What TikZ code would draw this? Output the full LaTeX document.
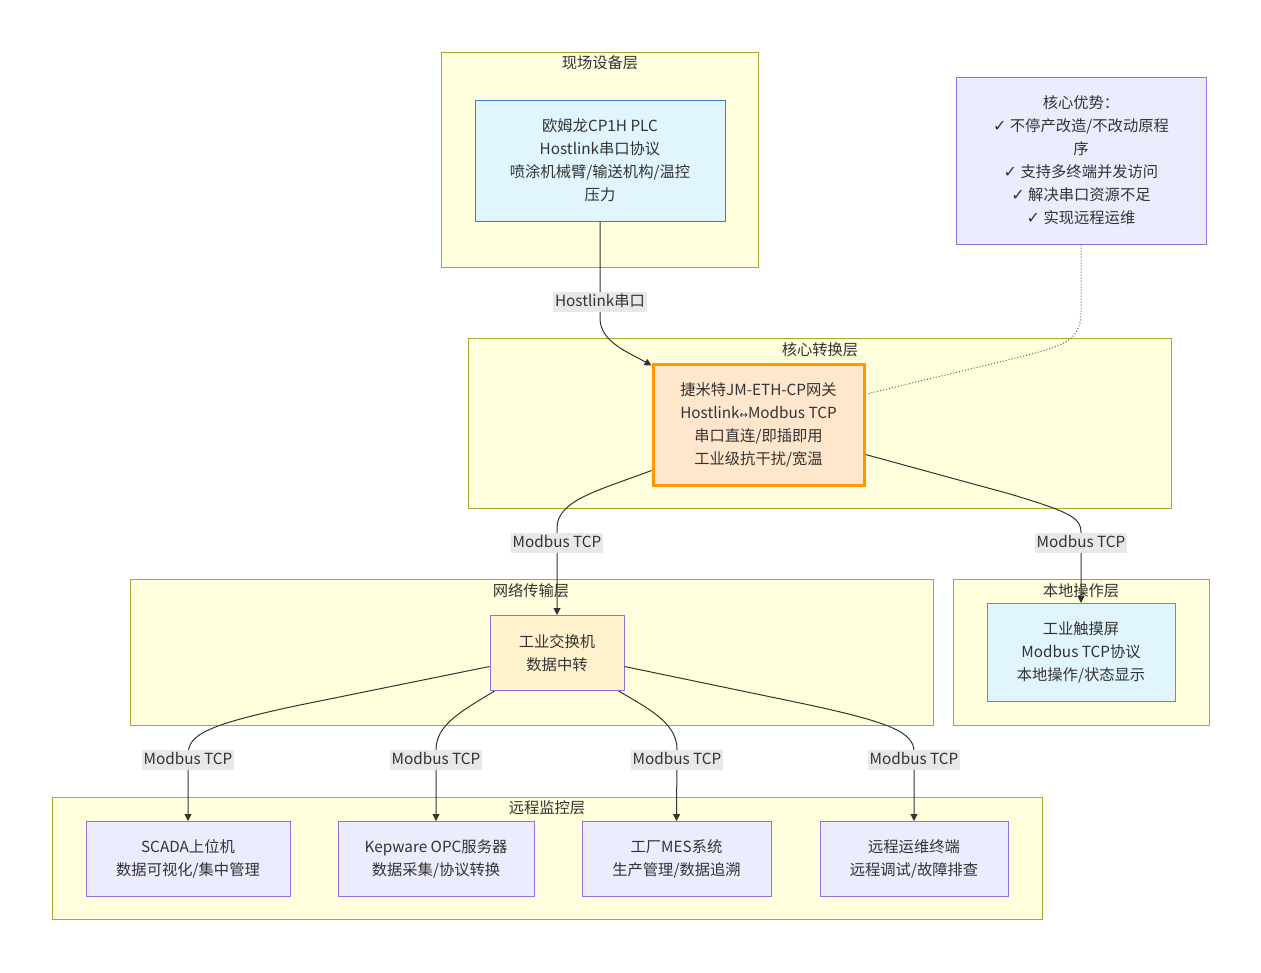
\documentclass[tikz,border=0pt]{standalone}
\usepackage{fontspec}
\setmainfont{Noto Sans CJK SC}
\newfontfamily\symf{DejaVu Sans}
\usetikzlibrary{arrows.meta,calc}
\definecolor{clfill}{HTML}{FFFFDE}
\definecolor{clborder}{HTML}{AAAA33}
\definecolor{textc}{HTML}{333333}
\definecolor{edgec}{HTML}{333333}
\definecolor{lblbg}{HTML}{E8E8E8}
\definecolor{bluefill}{HTML}{E1F5FE}
\definecolor{blueborder}{HTML}{3B7DC4}
\definecolor{purpfill}{HTML}{ECECFF}
\definecolor{purpborder}{HTML}{9370DB}
\definecolor{gwfill}{HTML}{FFE6CC}
\definecolor{gwborder}{HTML}{FF9800}
\definecolor{swfill}{HTML}{FFF2CC}
\newcommand{\ck}{{\symf\fontsize{16}{23}\selectfont ✓}}
\begin{document}
\begin{tikzpicture}[x=1pt,y=-1pt,
  every node/.style={text=textc, font=\fontsize{15.3}{23}\selectfont},
  cluster/.style={draw=clborder, fill=clfill, line width=1pt, inner sep=0pt},
  ctitle/.style={inner sep=0pt, anchor=center},
  box/.style={align=center, inner sep=0pt, line width=1pt},
  bluebox/.style={box, draw=purpborder, fill=bluefill},
  purpbox/.style={box, draw=purpborder, fill=purpfill},
  lbl/.style={fill=lblbg, inner sep=2pt, text height=12pt, text depth=4pt},
  flow/.style={draw=edgec, line width=1pt, -{Triangle[length=7pt,width=7pt]}},
  dotflow/.style={draw=edgec!80, line width=1pt, dotted}
]
\useasboundingbox (0,0) rectangle (1261,972);

% clusters
\node[cluster, minimum width=317pt, minimum height=215pt] (c1) at (599.5,159.5) {};
\node[ctitle] (c1t) at (600,63) {现场设备层};
\node[cluster, minimum width=703pt, minimum height=170pt] (c2) at (819.5,423) {};
\node[ctitle] (c2t) at (820,350) {核心转换层};
\node[cluster, minimum width=803pt, minimum height=146pt] (c3) at (531.5,652) {};
\node[ctitle] (c3t) at (531,591) {网络传输层};
\node[cluster, minimum width=256pt, minimum height=146pt] (c4) at (1081,652) {};
\node[ctitle] (c4t) at (1081,591) {本地操作层};
\node[cluster, minimum width=990pt, minimum height=122pt] (c5) at (547,858) {};
\node[ctitle] (c5t) at (547,808) {远程监控层};

% nodes
\node[box, draw=blueborder, fill=bluefill, minimum width=250pt, minimum height=121pt] (plc) at (600,160.5)
  {欧姆龙CP1H PLC\\Hostlink串口协议\\喷涂机械臂/输送机构/温控\\压力};
\node[purpbox, minimum width=250pt, minimum height=167pt] (adv) at (1081,160.5)
  {核心优势：\\\ck\ 不停产改造/不改动原程\\序\\\ck\ 支持多终端并发访问\\\ck\ 解决串口资源不足\\\ck\ 实现远程运维};
\node[box, draw=gwborder, fill=gwfill, line width=3pt, minimum width=211pt, minimum height=121pt] (gw) at (758.5,424.5)
  {捷米特JM-ETH-CP网关\\Hostlink{\symf\fontsize{10}{23}\selectfont ↔}Modbus TCP\\串口直连/即插即用\\工业级抗干扰/宽温};
\node[box, draw=purpborder, fill=swfill, minimum width=134pt, minimum height=75pt] (sw) at (557,653)
  {工业交换机\\数据中转};
\node[bluebox, minimum width=188pt, minimum height=98pt] (touch) at (1081,652.5)
  {工业触摸屏\\Modbus TCP协议\\本地操作/状态显示};
\node[purpbox, minimum width=204pt, minimum height=75pt] (scada) at (188,859)
  {SCADA上位机\\数据可视化/集中管理};
\node[purpbox, minimum width=196pt, minimum height=75pt] (kep) at (436,859)
  {Kepware OPC服务器\\数据采集/协议转换};
\node[purpbox, minimum width=189pt, minimum height=75pt] (mes) at (676.5,859)
  {工厂MES系统\\生产管理/数据追溯};
\node[purpbox, minimum width=188pt, minimum height=75pt] (rem) at (914,859)
  {远程运维终端\\远程调试/故障排查};

% edges
\draw[flow] (plc.south) -- (600,318) .. controls (600,342) and (628,352) .. ($(gw.north west)+(0,3)$);
\node[lbl] (l1) at (600,302) {Hostlink串口};

\draw[dotflow] (adv.south) -- (1081,312) .. controls (1081,342) and (1062,346) .. (1020,357) -- ($(gw.north east)+(3,31)$);

\draw[flow] ($(gw.south west)+(0,-16)$) .. controls (600,490) and (557,500) .. (557,528) -- (sw.north);
\node[lbl] (l2) at (557,543) {Modbus TCP};

\draw[flow] ($(gw.south east)+(0,-32)$) -- (1010,494) .. controls (1070,512) and (1081,518) .. (1081,532) -- (touch.north);
\node[lbl] (l3) at (1081,543) {Modbus TCP};

\draw[flow] ($(sw.west)+(0,13.5)$) -- (300,705) .. controls (205,725) and (188,735) .. (188,755) -- (scada.north);
\node[lbl] (l4) at (188,760) {Modbus TCP};

\draw[flow] ($(sw.south west)+(5,0)$) .. controls (460,712) and (436,725) .. (436,750) -- (kep.north);
\node[lbl] (l5) at (436,760) {Modbus TCP};

\draw[flow] ($(sw.south east)+(-6,0)$) .. controls (655,712) and (677,725) .. (677,750) -- (mes.north);
\node[lbl] (l6) at (677,760) {Modbus TCP};

\draw[flow] ($(sw.east)+(0,13.5)$) -- (800,703) .. controls (890,722) and (914,732) .. (914,752) -- (rem.north);
\node[lbl] (l7) at (914,760) {Modbus TCP};
\end{tikzpicture}
\end{document}
